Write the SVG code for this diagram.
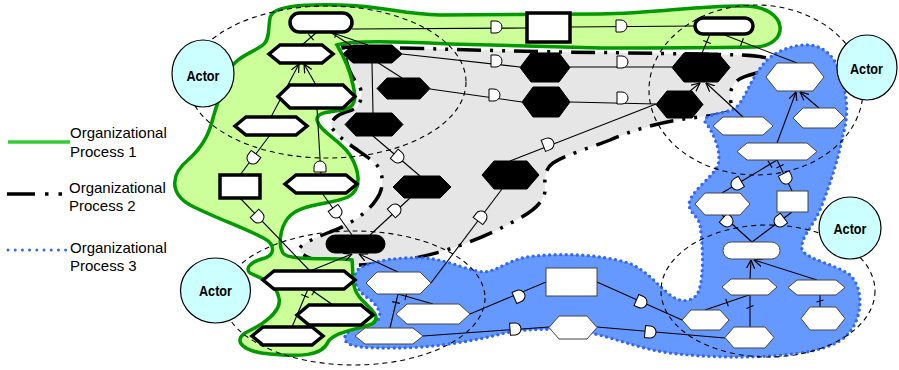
<svg xmlns="http://www.w3.org/2000/svg" width="899" height="370" viewBox="0 0 899 370">
<defs>
<style>
.reg2{fill:#e6e6e6;stroke:#000;stroke-width:3.5;stroke-dasharray:24 9 3 9 3 9}
.reg3{fill:#6699ff;stroke:#3366ff;stroke-width:3.4;stroke-linecap:round;stroke-dasharray:0 5.5}
.reg1{fill:#ccff99;stroke:#009900;stroke-width:3.5}
.ell{fill:none;stroke:#000;stroke-width:1.1;stroke-dasharray:5 4}
.c{fill:none;stroke:#000;stroke-width:1.1}
.ca{fill:none;stroke:#000;stroke-width:1.1;marker-end:url(#arr)}
.tk{stroke:#000;stroke-width:1.1}
.gate{fill:#fff;stroke:#000;stroke-width:1}
.gn{fill:#fff;stroke:#000;stroke-width:3.5}
.bn{fill:#000;stroke:#000;stroke-width:1}
.wn{fill:#fff;stroke:#444;stroke-width:1}
.actor{fill:#ccffff;stroke:#000;stroke-width:1.2}
.at{font-family:"Liberation Sans",Arial,sans-serif;font-weight:bold;font-size:14.5px;text-anchor:middle}
.lt{font-family:"Liberation Sans",Arial,sans-serif;font-size:15px}
</style>
<marker id="arr" viewBox="0 0 10 10" refX="9.5" refY="5" markerWidth="9" markerHeight="9" markerUnits="userSpaceOnUse" orient="auto"><path d="M0,0.5 L9.5,5 L0,9.5" fill="none" stroke="#000" stroke-width="1.4"/></marker>
<path id="gp" d="M-5,-6 H0 A6,6 0 0 1 0,6 H-5 Z"/>
</defs>

<g id="regions">
<path id="process2" class="reg2" d="M343,47 C420,48 500,51 560,52 C640,53 700,54 740,55 C765,56 782,60 775,66 C768,72 745,74 738,80 C728,88 730,100 732,107 C730,115 715,115 700,117 C670,120 640,127 610,140 C590,148 565,155 553,163 C543,170 545,182 545,190 C545,200 535,210 520,218 C495,232 470,243 440,252 C410,260 385,264 360,265 C335,265 310,262 300,252 C296,246 310,240 330,232 C350,225 368,212 376,200 C385,188 384,172 375,163 C362,152 340,140 332,128 C328,120 340,113 352,110 C362,106 364,92 358,84 C350,76 346,62 343,47 Z"/>
<path id="process3" class="reg3" d="M767,60 C778,50 795,44 810,45 C828,47 838,62 842,80 C848,100 848,118 843,135 C838,160 830,185 820,210 C812,228 800,238 802,250 C808,260 835,264 850,275 C864,288 864,320 845,337 C830,350 800,354 770,356 C740,358 700,357 670,353 C640,349 615,338 590,333 C560,328 530,328 505,333 C470,342 430,348 395,348 C370,348 348,348 345,340 C342,332 360,325 375,322 C385,318 378,305 368,298 C355,290 350,275 360,268 C375,260 400,257 425,258 C450,260 470,272 485,272 C500,270 510,258 535,256 C565,253 600,255 625,262 C645,268 655,283 670,295 C682,304 695,302 699,290 C704,275 703,245 700,225 C698,215 686,212 690,200 C695,188 712,178 718,165 C722,150 712,130 705,122 C702,115 720,114 732,110 C745,104 748,80 767,60 Z"/>
<path id="process1" class="reg1" d="M270,18 C272,6 300,4 340,5 C385,6 400,14 440,15 L600,14 C660,13 700,5 745,6 C790,7 790,46 755,47 C700,48 640,48 600,48 L450,44 C400,42 355,40 337,45 C343,55 350,70 353,85 C357,100 355,108 342,110 C330,112 316,112 317,120 C320,132 340,140 350,155 C358,168 364,188 348,197 C330,205 300,203 288,218 C280,228 278,245 283,253 C290,262 335,257 352,260 C354,275 350,288 362,300 C372,310 382,318 372,324 C355,330 334,332 328,342 C322,356 300,357 270,354 C245,352 232,342 245,333 C262,325 282,312 279,298 C276,282 260,278 250,273 C244,268 252,261 265,258 C276,254 274,244 265,239 C250,230 215,218 190,205 C168,192 172,173 188,160 C205,145 210,130 213,118 C218,100 224,85 230,70 C235,57 255,52 264,44 C270,38 268,28 270,18 Z"/>
</g>

<g id="actor-scopes">
<ellipse class="ell" cx="327" cy="82" rx="139" ry="76"/>
<ellipse class="ell" cx="756" cy="90" rx="107" ry="85"/>
<ellipse class="ell" cx="354" cy="298" rx="131" ry="67"/>
<ellipse class="ell" cx="768" cy="291" rx="107" ry="66"/>
</g>

<g id="connectors">
<line class="c" x1="317" y1="32" x2="302" y2="45"/>
<line class="c" x1="330" y1="32" x2="368" y2="45"/>
<line class="c" x1="330" y1="32" x2="402" y2="78"/>
<line class="c" x1="352" y1="29" x2="527" y2="28"/>
<line class="c" x1="570" y1="27" x2="695" y2="26"/>
<line class="c" x1="710" y1="34" x2="702" y2="53"/>
<line class="c" x1="722" y1="34" x2="797" y2="63"/>
<line class="c" x1="402" y1="54" x2="520" y2="67"/>
<line class="c" x1="430" y1="89" x2="522" y2="102"/>
<line class="c" x1="672" y1="67" x2="570" y2="67"/>
<line class="c" x1="656" y1="104" x2="570" y2="102"/>
<line class="c" x1="372" y1="63" x2="373" y2="113"/>
<line class="c" x1="373" y1="136" x2="420" y2="176"/>
<line class="c" x1="410" y1="198" x2="370" y2="235"/>
<line class="c" x1="510" y1="161" x2="656" y2="104"/>
<line class="c" x1="502" y1="189" x2="431" y2="283"/>
<line class="c" x1="322" y1="193" x2="352" y2="235"/>
<line class="c" x1="317" y1="108" x2="321" y2="175"/>
<line class="c" x1="270" y1="135" x2="240" y2="175"/>
<line class="ca" x1="271" y1="117" x2="299" y2="64"/>
<line class="ca" x1="316" y1="85" x2="304" y2="64"/>
<line class="c" x1="240" y1="198" x2="310" y2="271"/>
<line class="ca" x1="310" y1="271" x2="352" y2="254"/>
<line class="ca" x1="398" y1="272" x2="359" y2="254"/>
<line class="c" x1="310" y1="289" x2="333" y2="305"/>
<line class="c" x1="308" y1="289" x2="292" y2="327"/>
<line class="c" x1="398" y1="294" x2="433" y2="304"/>
<line class="c" x1="398" y1="294" x2="390" y2="328"/>
<line class="c" x1="470" y1="314" x2="546" y2="282"/>
<line class="c" x1="423" y1="336" x2="549" y2="327"/>
<line class="c" x1="597" y1="282" x2="682" y2="320"/>
<line class="c" x1="597" y1="327" x2="725" y2="338"/>
<line class="ca" x1="750" y1="279" x2="751" y2="260"/>
<line class="ca" x1="817" y1="280" x2="754" y2="260"/>
<line class="c" x1="749" y1="295" x2="705" y2="310"/>
<line class="c" x1="750" y1="295" x2="750" y2="327"/>
<line class="c" x1="820" y1="295" x2="820" y2="307"/>
<line class="c" x1="722" y1="215" x2="752" y2="242"/>
<line class="c" x1="792" y1="212" x2="752" y2="242"/>
<line class="c" x1="777" y1="160" x2="722" y2="193"/>
<line class="c" x1="777" y1="160" x2="792" y2="191"/>
<line class="ca" x1="777" y1="143" x2="796" y2="92"/>
<line class="ca" x1="819" y1="108" x2="800" y2="92"/>
<line class="ca" x1="743" y1="117" x2="706" y2="83"/>
<line class="ca" x1="690" y1="91" x2="700" y2="83"/>
<line class="tk" x1="308.4" y1="34.2" x2="313.6" y2="40.2"/>
<line class="tk" x1="334.7" y1="37.8" x2="337.3" y2="30.2"/>
<line class="tk" x1="703.3" y1="40.4" x2="710.7" y2="43.6"/>
<line class="tk" x1="740.6" y1="45.7" x2="743.4" y2="38.3"/>
<line class="tk" x1="311.7" y1="295.3" x2="316.3" y2="288.7"/>
<line class="tk" x1="301.3" y1="294.4" x2="308.7" y2="297.6"/>
<line class="tk" x1="404.9" y1="300.1" x2="407.1" y2="292.5"/>
<line class="tk" x1="392.1" y1="301.6" x2="399.9" y2="303.4"/>
<line class="tk" x1="725.7" y1="298.7" x2="728.3" y2="306.3"/>
<line class="tk" x1="746.5" y1="308.5" x2="753.5" y2="305.5"/>
<line class="tk" x1="816.5" y1="302" x2="823.5" y2="300"/>
<line class="tk" x1="767.9" y1="160.8" x2="772.1" y2="167.6"/>
<line class="tk" x1="776.4" y1="168" x2="783.6" y2="164.5"/>
<use href="#gp" class="gate" transform="translate(496,27)"/>
<use href="#gp" class="gate" transform="translate(621,26)"/>
<use href="#gp" class="gate" transform="translate(496,61)"/>
<use href="#gp" class="gate" transform="translate(494,95)"/>
<use href="#gp" class="gate" transform="translate(622,62)"/>
<use href="#gp" class="gate" transform="translate(622,98)"/>
<use href="#gp" class="gate" transform="translate(398,157) rotate(40)"/>
<use href="#gp" class="gate" transform="translate(395,210) rotate(-43)"/>
<use href="#gp" class="gate" transform="translate(548,144) rotate(-21)"/>
<use href="#gp" class="gate" transform="translate(481,217) rotate(-53)"/>
<use href="#gp" class="gate" transform="translate(336,212) rotate(54)"/>
<use href="#gp" class="gate" transform="translate(320,167) rotate(-90)"/>
<use href="#gp" class="gate" transform="translate(253,158) rotate(127)"/>
<use href="#gp" class="gate" transform="translate(258,217) rotate(46)"/>
<use href="#gp" class="gate" transform="translate(519,296) rotate(-23)"/>
<use href="#gp" class="gate" transform="translate(515,329) rotate(-4)"/>
<use href="#gp" class="gate" transform="translate(641,302) rotate(24)"/>
<use href="#gp" class="gate" transform="translate(650,332) rotate(5)"/>
<use href="#gp" class="gate" transform="translate(727,221) rotate(42)"/>
<use href="#gp" class="gate" transform="translate(780,221) rotate(143)"/>
<use href="#gp" class="gate" transform="translate(737,184) rotate(149)"/>
<use href="#gp" class="gate" transform="translate(786,178) rotate(64)"/>
</g>

<g id="nodes">
<rect id="G1" class="gn" x="290" y="13" width="62" height="19" rx="9.5"/>
<polygon id="G2" class="gn" points="269,54 280,45 322,45 333,54 322,63 280,63"/>
<polygon id="G3" class="gn" points="278,96.5 290,85 343,85 355,96.5 343,108 290,108"/>
<polygon id="G4" class="gn" points="235,126 246,117 296,117 307,126 296,135 246,135"/>
<rect id="G5" class="gn" x="220" y="175" width="40" height="23"/>
<polygon id="G6" class="gn" points="285,184 296,175 346,175 357,184 346,193 296,193"/>
<polygon id="G7" class="gn" points="263,280 274,271 344,271 355,280 344,289 274,289"/>
<polygon id="G8" class="gn" points="297,315 309,305 361,305 373,315 361,325 309,325"/>
<polygon id="G9" class="gn" points="252,336 263,327 312,327 323,336 312,345 263,345"/>
<rect id="G10" class="gn" x="527" y="13" width="43" height="29"/>
<rect id="G11" class="gn" x="695" y="18" width="58" height="16" rx="8"/>
<polygon id="B1" class="bn" points="343,54 353,45 392,45 402,54 392,63 353,63"/>
<polygon id="B2" class="bn" points="377,88.5 387,78 420,78 430,88.5 420,99 387,99"/>
<polygon id="B3" class="bn" points="345,124.5 356,113 392,113 403,124.5 392,136 356,136"/>
<polygon id="B4" class="bn" points="393,187 404,176 440,176 451,187 440,198 404,198"/>
<polygon id="B5" class="bn" points="482,175 494,161 527,161 539,175 527,189 494,189"/>
<polygon id="B6" class="bn" points="520,67.5 531,53 559,53 570,67.5 559,82 531,82"/>
<polygon id="B7" class="bn" points="522,102 533,87 559,87 570,102 559,117 533,117"/>
<polygon id="B8" class="bn" points="672,67.5 684,53 718,53 730,67.5 718,82 684,82"/>
<polygon id="B9" class="bn" points="656,104.5 667,91 692,91 703,104.5 692,118 667,118"/>
<rect id="B10" class="bn" x="326" y="235" width="59" height="18" rx="9"/>
<polygon id="W1" class="wn" points="766,77 777,63 813,63 824,77 813,91 777,91"/>
<polygon id="W2" class="wn" points="713,126 723,117 763,117 773,126 763,135 723,135"/>
<polygon id="W3" class="wn" points="793,118 803,108 835,108 845,118 835,128 803,128"/>
<polygon id="W4" class="wn" points="737,151.5 747,143 807,143 817,151.5 807,160 747,160"/>
<polygon id="W5" class="wn" points="695,204 705,193 740,193 750,204 740,215 705,215"/>
<rect id="W6" class="wn" x="777" y="191" width="31" height="21"/>
<rect id="W7" class="wn" x="723" y="242" width="57" height="17" rx="8.5"/>
<polygon id="W8" class="wn" points="722,287 731,279 768,279 777,287 768,295 731,295"/>
<polygon id="W9" class="wn" points="788,287.5 797,280 836,280 845,287.5 836,295 797,295"/>
<polygon id="W10" class="wn" points="682,320 691,310 720,310 729,320 720,330 691,330"/>
<polygon id="W11" class="wn" points="801,318.5 810,307 836,307 845,318.5 836,330 810,330"/>
<polygon id="W12" class="wn" points="725,337.5 734,327 765,327 774,337.5 765,348 734,348"/>
<rect id="W13" class="wn" x="546" y="268" width="51" height="28"/>
<polygon id="W14" class="wn" points="549,327.5 559,316 587,316 597,327.5 587,339 559,339"/>
<polygon id="W15" class="wn" points="366,283 377,272 420,272 431,283 420,294 377,294"/>
<polygon id="W16" class="wn" points="396,314 407,304 459,304 470,314 459,324 407,324"/>
<polygon id="W17" class="wn" points="355,336 365,328 413,328 423,336 413,344 365,344"/>
</g>

<g id="actor1"><ellipse class="actor" cx="203" cy="73.5" rx="31" ry="33.5"/><text class="at" x="203" y="81" textLength="33" lengthAdjust="spacingAndGlyphs">Actor</text></g>
<g id="actor2"><ellipse class="actor" cx="867" cy="67.5" rx="30" ry="32.5"/><text class="at" x="866.5" y="74" textLength="33" lengthAdjust="spacingAndGlyphs">Actor</text></g>
<g id="actor3"><ellipse class="actor" cx="850" cy="228" rx="31" ry="31"/><text class="at" x="850" y="234" textLength="33" lengthAdjust="spacingAndGlyphs">Actor</text></g>
<g id="actor4"><ellipse class="actor" cx="215.5" cy="290.5" rx="35" ry="32.5"/><text class="at" x="215.5" y="296" textLength="33" lengthAdjust="spacingAndGlyphs">Actor</text></g>

<g id="legend">
<line x1="8" y1="142" x2="70" y2="142" stroke="#33cc33" stroke-width="3.5"/>
<text class="lt" x="70" y="138">Organizational</text>
<text class="lt" x="70" y="157">Process 1</text>
<line x1="7" y1="194" x2="66" y2="194" stroke="#000" stroke-width="3.5" stroke-dasharray="28 10 3.5 10 3.5 10"/>
<text class="lt" x="69" y="193">Organizational</text>
<text class="lt" x="69" y="211">Process 2</text>
<line x1="8" y1="250" x2="66" y2="250" stroke="#3366ff" stroke-width="3" stroke-linecap="round" stroke-dasharray="0 7.2"/>
<text class="lt" x="70" y="253">Organizational</text>
<text class="lt" x="70" y="271">Process 3</text>
</g>
</svg>
